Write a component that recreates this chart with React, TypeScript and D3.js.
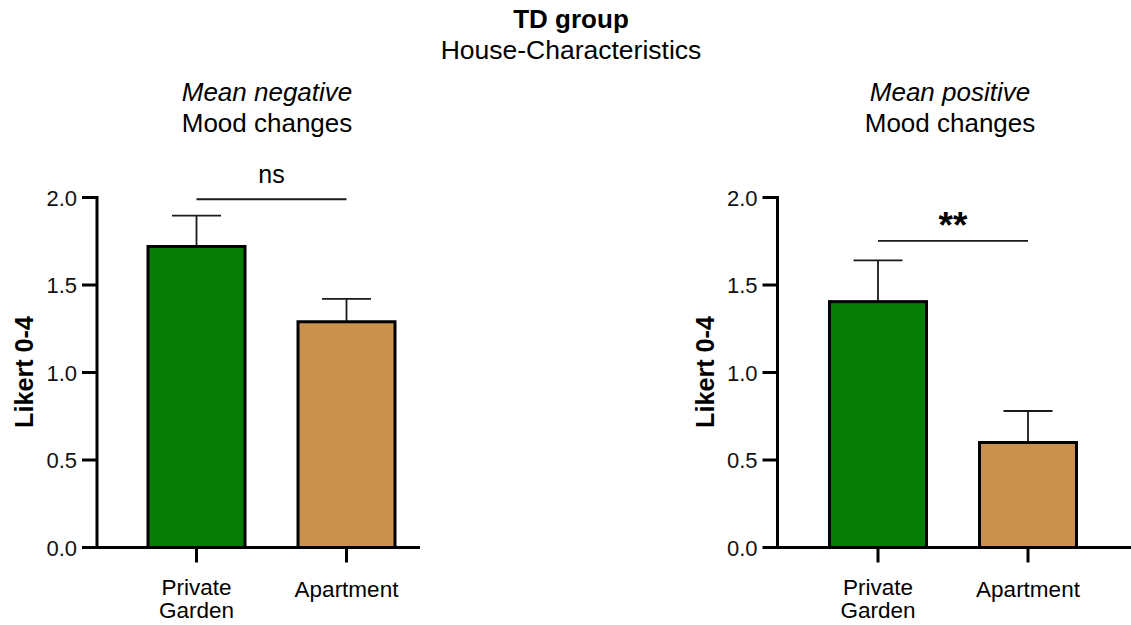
import React from "react";
import * as d3 from "d3";

const categories = ["Private Garden", "Apartment"];
const barColors = ["#067b06", "#c8924e"];
const negMeans = [1.72, 1.29];
const negErrors = [0.176, 0.131];
const posMeans = [1.405, 0.6];
const posErrors = [0.236, 0.18];
const yTicks = [0, 0.5, 1.0, 1.5, 2.0];
const sigLabels = ["ns", "**"];
const sigLevels = [1.99, 1.752];
const panelTitlesItalic = ["Mean negative", "Mean positive"];
const panelTitles = ["Mood changes", "Mood changes"];

const FONT = "'Liberation Sans', Arial, Helvetica, sans-serif";

type PanelProps = {
  axisX: number;
  xEnd: number;
  c0: number;
  c1: number;
  means: number[];
  errors: number[];
  sig: string;
  sigLevel: number;
  titleX: number;
  titleItalic: string;
  title: string;
  labelX: number;
};

function Panel(p: PanelProps) {
  const y = d3.scaleLinear().domain([0, 2]).range([547.5, 197.5]);
  const x = d3.scalePoint<string>().domain(categories).range([p.c0, p.c1]);
  const barW = 97;
  const capHalf = 24.5;
  const y0 = y(0);
  const sigY = y(p.sigLevel);
  const cx0 = x(categories[0])!;
  const cx1 = x(categories[1])!;
  const isStars = p.sig.includes("*");
  return (
    <g>
      <text x={p.titleX} y={101} textAnchor="middle" fontSize={26} fontStyle="italic" fontFamily={FONT}>
        {p.titleItalic}
      </text>
      <text x={p.titleX} y={132} textAnchor="middle" fontSize={26} fontFamily={FONT}>
        {p.title}
      </text>
      {/* bars */}
      {categories.map((c, i) => {
        const cx = x(c)!;
        const top = y(p.means[i]);
        const et = y(p.means[i] + p.errors[i]);
        return (
          <g key={c}>
            <line x1={cx} x2={cx} y1={top} y2={et} stroke="#1a1a1a" strokeWidth={1.8} />
            <line x1={cx - capHalf} x2={cx + capHalf} y1={et} y2={et} stroke="#1a1a1a" strokeWidth={1.8} />
            <rect x={cx - barW / 2} y={top} width={barW} height={y0 - top} fill={barColors[i]} stroke="#000" strokeWidth={3} />
          </g>
        );
      })}
      {/* axes */}
      <line x1={p.axisX} x2={p.axisX} y1={y(2)} y2={y0} stroke="#000" strokeWidth={3} strokeLinecap="square" />
      <line x1={p.axisX} x2={p.xEnd} y1={y0} y2={y0} stroke="#000" strokeWidth={3} />
      {yTicks.map((t) => (
        <g key={t}>
          <line x1={p.axisX - 15} x2={p.axisX} y1={y(t)} y2={y(t)} stroke="#000" strokeWidth={3} />
          <text x={p.axisX - 20} y={y(t) + 8} textAnchor="end" fontSize={22} fontFamily={FONT} fill="#111">
            {d3.format(".1f")(t)}
          </text>
        </g>
      ))}
      {categories.map((c) => (
        <line key={c} x1={x(c)!} x2={x(c)!} y1={y0} y2={y0 + 15} stroke="#000" strokeWidth={3} />
      ))}
      <text x={cx0} y={595} textAnchor="middle" fontSize={22.5} fontFamily={FONT}>Private</text>
      <text x={cx0} y={618} textAnchor="middle" fontSize={22.5} fontFamily={FONT}>Garden</text>
      <text x={cx1} y={597} textAnchor="middle" fontSize={22.5} fontFamily={FONT}>Apartment</text>
      {/* y label */}
      <text
        transform={`translate(${p.labelX},372) rotate(-90)`}
        textAnchor="middle"
        fontSize={25.2}
        fontWeight="bold"
        fontFamily={FONT}
      >
        Likert 0-4
      </text>
      {/* significance */}
      <line x1={cx0} x2={cx1} y1={sigY} y2={sigY} stroke="#1a1a1a" strokeWidth={1.8} />
      {isStars ? (
        <text x={(cx0 + cx1) / 2} y={sigY - 3} textAnchor="middle" fontSize={37} fontWeight="bold" fontFamily={FONT}>
          {p.sig}
        </text>
      ) : (
        <text x={(cx0 + cx1) / 2} y={sigY - 16} textAnchor="middle" fontSize={25} fontFamily={FONT}>
          {p.sig}
        </text>
      )}
    </g>
  );
}

export default function App() {
  return (
    <svg width={1131} height={625} style={{ position: "absolute", left: 0, top: 0, background: "#fff" }}>
      <rect width={1131} height={625} fill="#fff" />
      <text x={571} y={28} textAnchor="middle" fontSize={26} fontWeight="bold" fontFamily={FONT}>
        TD group
      </text>
      <text x={571} y={59} textAnchor="middle" fontSize={26.5} fontFamily={FONT}>
        House-Characteristics
      </text>
      <Panel
        axisX={97}
        xEnd={420}
        c0={196.5}
        c1={346.5}
        means={negMeans}
        errors={negErrors}
        sig={sigLabels[0]}
        sigLevel={sigLevels[0]}
        titleX={267}
        titleItalic={panelTitlesItalic[0]}
        title={panelTitles[0]}
        labelX={33}
      />
      <Panel
        axisX={777.5}
        xEnd={1131}
        c0={878}
        c1={1028}
        means={posMeans}
        errors={posErrors}
        sig={sigLabels[1]}
        sigLevel={sigLevels[1]}
        titleX={950}
        titleItalic={panelTitlesItalic[1]}
        title={panelTitles[1]}
        labelX={714}
      />
    </svg>
  );
}
